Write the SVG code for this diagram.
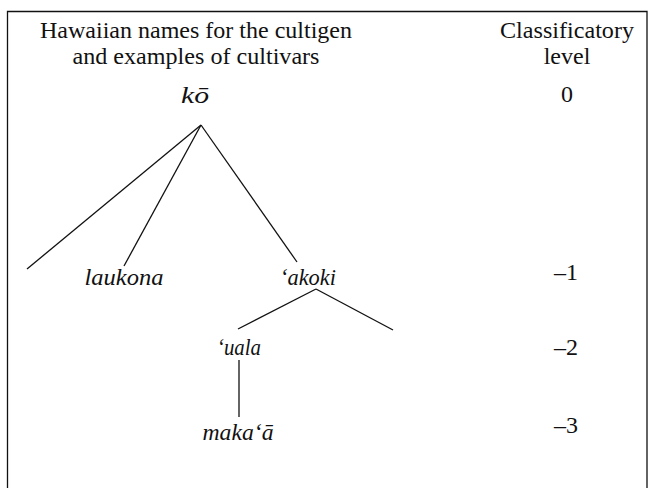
<svg xmlns="http://www.w3.org/2000/svg" width="652" height="488" viewBox="0 0 652 488">
<style>
.t{font-family:"Liberation Serif","Times New Roman",serif;font-size:24px;fill:#111}
.i{font-style:italic}
.c{stroke:#111;stroke-width:1.3;fill:none}
</style>
<rect width="652" height="488" fill="#fff"/>
<path class="c" d="M7.5,488 V11.5 H647 V488"/>
<g id="headers">
<text class="t" x="196" y="38" text-anchor="middle" textLength="312" lengthAdjust="spacingAndGlyphs">Hawaiian names for the cultigen</text>
<text class="t" x="196" y="64" text-anchor="middle" textLength="247" lengthAdjust="spacingAndGlyphs">and examples of cultivars</text>
<text class="t" x="567" y="38" text-anchor="middle" textLength="134" lengthAdjust="spacingAndGlyphs">Classificatory</text>
<text class="t" x="567" y="64" text-anchor="middle">level</text>
</g>
<g id="levels">
<text class="t" x="567" y="102" text-anchor="middle">0</text>
<text class="t" x="566" y="280" text-anchor="middle">–1</text>
<text class="t" x="566" y="355" text-anchor="middle">–2</text>
<text class="t" x="566" y="433" text-anchor="middle">–3</text>
</g>
<g id="ko"><text class="t i" x="195" y="103" text-anchor="middle" textLength="28" lengthAdjust="spacingAndGlyphs">kō</text></g>
<g id="laukona"><text class="t i" x="124" y="285" text-anchor="middle" textLength="79" lengthAdjust="spacingAndGlyphs">laukona</text></g>
<g id="akoki"><text class="t i" x="308" y="285" text-anchor="middle" textLength="56" lengthAdjust="spacingAndGlyphs">‘akoki</text></g>
<g id="uala"><text class="t i" x="239" y="355" text-anchor="middle" textLength="44" lengthAdjust="spacingAndGlyphs">‘uala</text></g>
<g id="makaa"><text class="t i" x="238" y="440" text-anchor="middle" textLength="71" lengthAdjust="spacingAndGlyphs">maka‘ā</text></g>
<g id="connectors">
<line class="c" x1="201" y1="125" x2="27" y2="269"/>
<line class="c" x1="201" y1="125" x2="124" y2="266"/>
<line class="c" x1="201" y1="125" x2="297" y2="262"/>
<line class="c" x1="316" y1="289" x2="238" y2="329"/>
<line class="c" x1="316" y1="289" x2="393" y2="330"/>
<line class="c" x1="239" y1="360" x2="239" y2="417"/>
</g>
</svg>
